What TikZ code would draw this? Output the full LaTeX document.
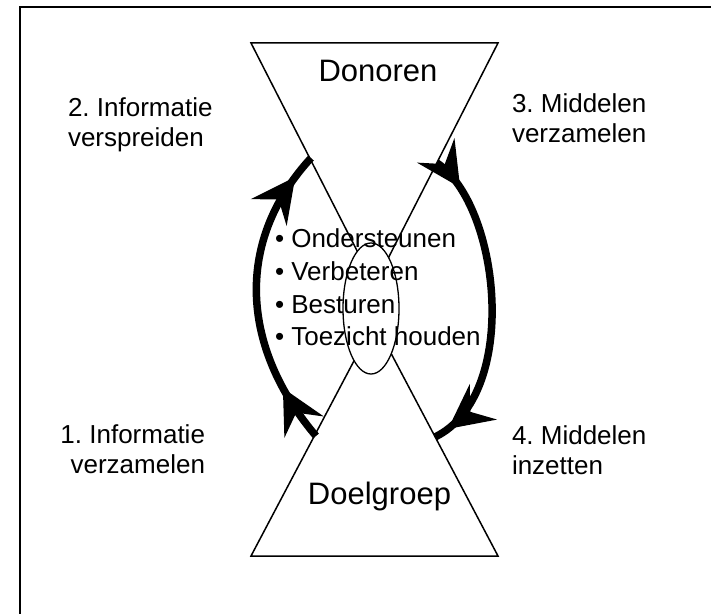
\documentclass[tikz,border=0pt]{standalone}
\usepackage{fontspec}
\setmainfont{Liberation Sans}
\usetikzlibrary{arrows.meta,decorations.markings,shapes.geometric}
\frenchspacing
\begin{document}
\begin{tikzpicture}[x=1bp,y=-1bp,
  lbl/.style={inner sep=0pt, outer sep=0pt, font=\fontsize{26bp}{30bp}\selectfont},
  bigl/.style={inner sep=0pt, outer sep=0pt, font=\fontsize{31bp}{36bp}\selectfont},
  tri/.style={draw, line width=1.5bp, line join=miter},
  frameline/.style={line width=2bp},
  bighead/.tip={Stealth[length=44bp,width=44bp,inset=16bp]},
  looparrow/.style={line width=7.5bp, postaction={decorate},
    decoration={markings,
      mark=at position #1 with {\arrow{bighead}}}},
]
\useasboundingbox (0,0) rectangle (711,614);
% frame (only top and left edges fall inside the picture)
\coordinate (fbl) at (20,620);
\coordinate (ftl) at (20,7);
\coordinate (ftr) at (720,7);
\draw[frameline] (fbl) -- (ftl) -- (ftr);
% triangles
\coordinate (d1) at (251,43);
\coordinate (d2) at (498,43);
\coordinate (d3) at (374.5,285);
\draw[tri] (d1) -- (d2) -- (d3) -- cycle;
\coordinate (g1) at (251,556);
\coordinate (g2) at (498,556);
\coordinate (g3) at (374.5,322);
\draw[tri] (g1) -- (g2) -- (g3) -- cycle;
% ellipse
\node[ellipse, draw, fill=white, line width=1.3bp, inner sep=0pt,
      minimum width=56bp, minimum height=131bp] (ell) at (371,308.5) {};
% loop arrows
\coordinate (la) at (316,436);
\coordinate (lb) at (311,158);
\draw[looparrow=0.19] (la) .. controls (243,350) and (232,244) .. (lb);
\path[looparrow=0.92] (la) .. controls (243,350) and (232,244) .. (lb);
\coordinate (ra) at (437,163);
\coordinate (rb) at (435,437);
\draw[looparrow=0.11] (ra) .. controls (500,205) and (521,395) .. (rb);
\path[looparrow=0.95] (ra) .. controls (500,205) and (521,395) .. (rb);
% texts
\node[bigl, anchor=base] (don) at (378,82) {Donoren};
\node[bigl, anchor=base] (doel) at (379.5,504) {Doelgroep};
\node[lbl, anchor=base west] (b1) at (275,247) {• Ondersteunen};
\node[lbl, anchor=base west] (b2) at (275,280) {• Verbeteren};
\node[lbl, anchor=base west] (b3) at (275,313) {• Besturen};
\node[lbl, anchor=base west] (b4) at (275,345) {• Toezicht houden};
\node[lbl, anchor=base west, align=left] (l2) at (68,147) {2. Informatie\\verspreiden};
\node[lbl, anchor=base west, align=left] (l3) at (512,143) {3. Middelen\\verzamelen};
\node[lbl, anchor=base east, align=right] (l1) at (205,473) {1. Informatie\\verzamelen};
\node[lbl, anchor=base west, align=left] (l4) at (512,474) {4. Middelen\\inzetten};
\end{tikzpicture}
\end{document}
